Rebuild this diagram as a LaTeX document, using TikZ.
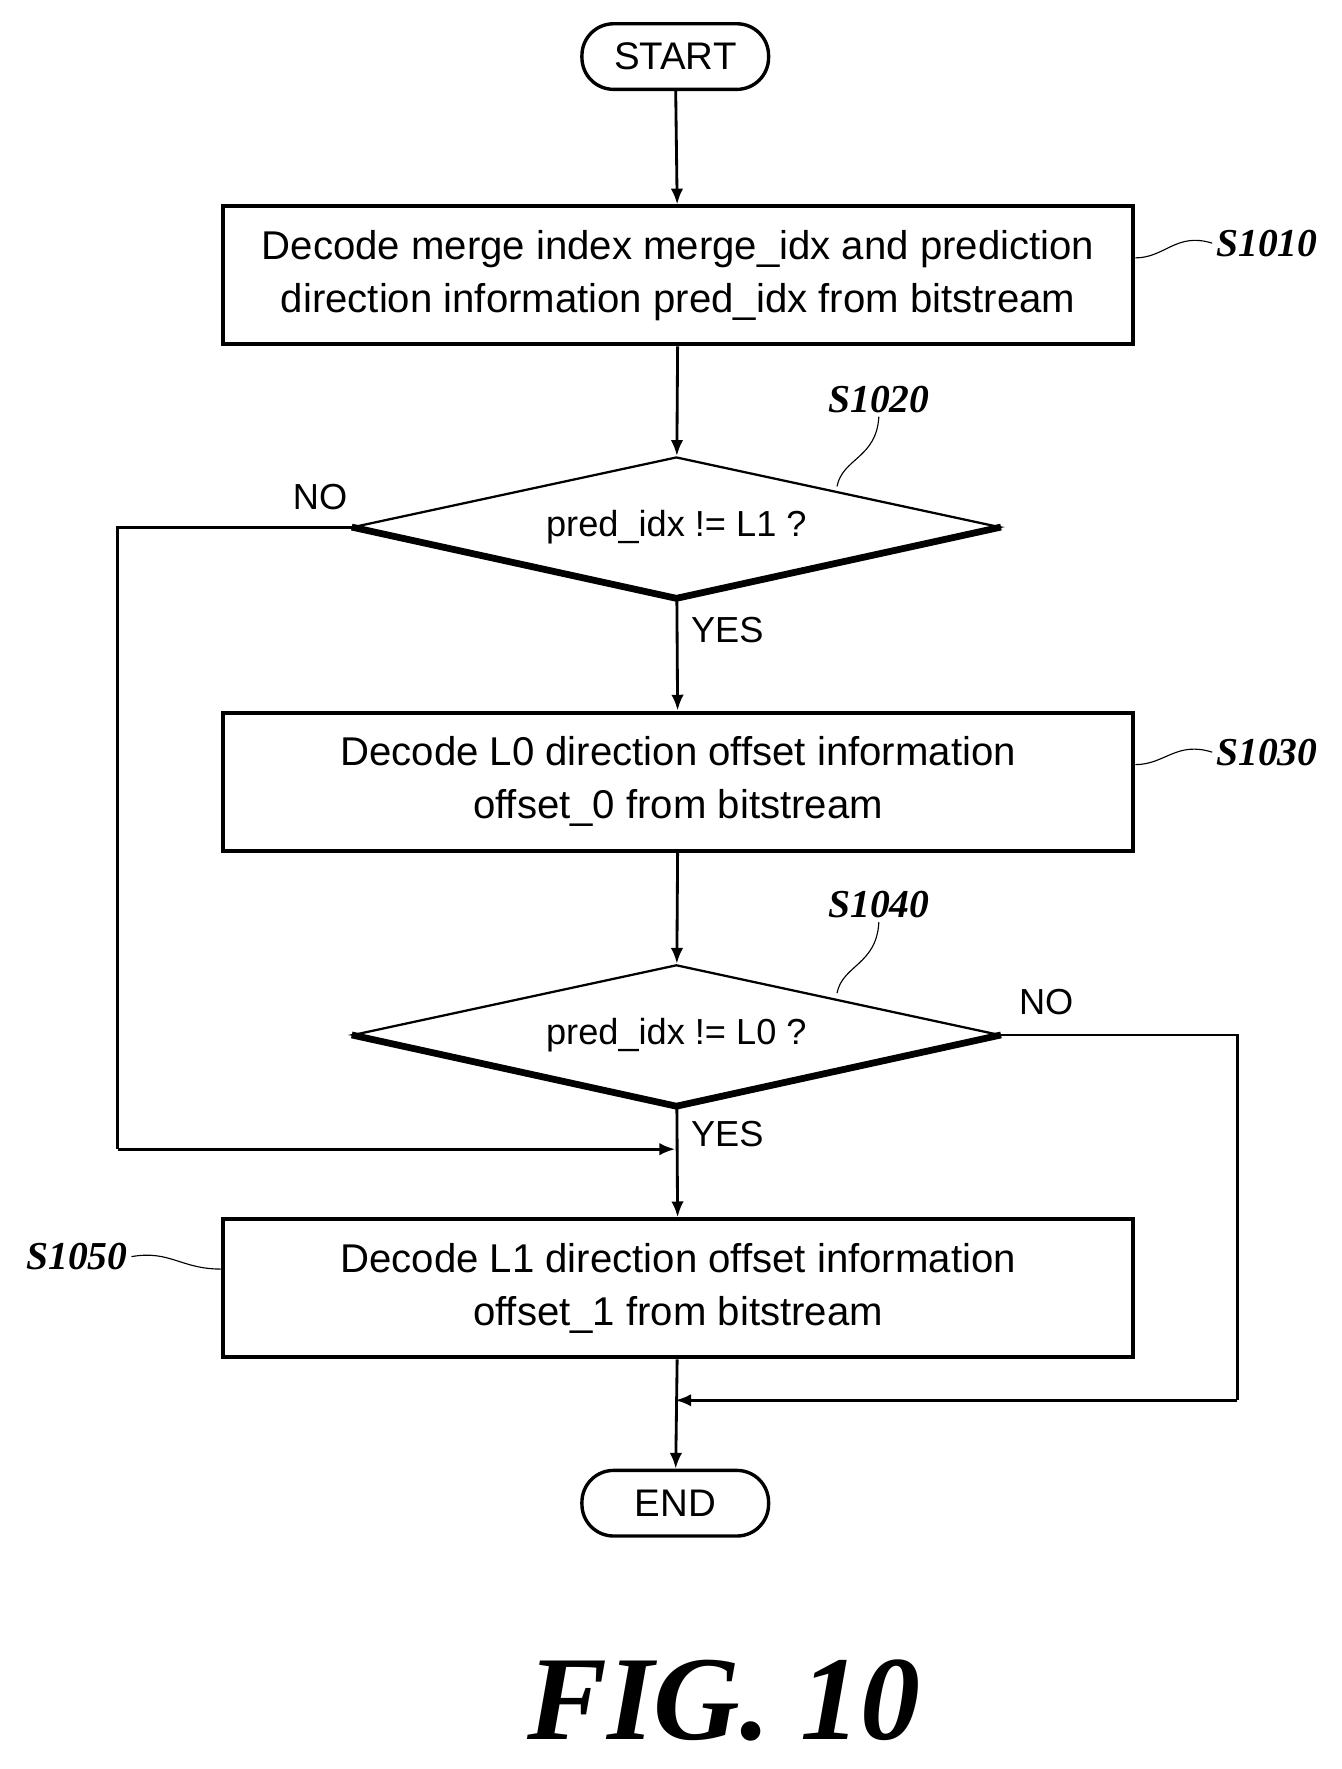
\documentclass[tikz,border=0pt]{standalone}
\usepackage{fontspec}
\setmainfont{Liberation Sans}
\newfontfamily\figfont{Liberation Serif}
\usetikzlibrary{shapes.geometric,arrows.meta}
\begin{document}
\begin{tikzpicture}[x=1pt,y=-1pt,
  box/.style={draw,line width=3.5pt,minimum width=805pt,minimum height=122pt,align=center,font=\fontsize{35.5}{47}\selectfont},
  term/.style={draw,line width=3pt,rounded corners=28pt,minimum width=165pt,minimum height=58pt,font=\fontsize{34}{40}\selectfont},
  dia/.style={draw,line width=2pt,diamond,aspect=4.6,minimum width=572pt,minimum height=124pt,inner sep=0pt,font=\fontsize{32}{38}\selectfont},
  lab/.style={font=\fontsize{32}{38}\selectfont},
  steplab/.style={font=\figfont\itshape\bfseries\fontsize{35}{40}\selectfont},
  arr/.style={line width=2.5pt,-{Latex[length=14pt,width=11pt]}},
  ln/.style={line width=2.5pt},
  sq/.style={line width=1pt}]
\useasboundingbox (0,0) rectangle (1186,1564);
\node[term] (start) at (597,50) {START};
\node[box] (b1) at (599.5,243.5) {Decode merge index merge\_idx and prediction\\direction information pred\_idx from bitstream};
\node[dia] (d1) at (598,466) {pred\_idx != L1 ?};
\node[box] (b2) at (599.5,691) {Decode L0 direction offset information\\offset\_0 from bitstream};
\node[dia] (d2) at (598,915) {pred\_idx != L0 ?};
\node[box] (b3) at (599.5,1139) {Decode L1 direction offset information\\offset\_1 from bitstream};
\node[term] (end) at (597,1329) {END};
\draw[line width=6pt] (d1.west) -- (d1.south) -- (d1.east);
\draw[line width=6pt] (d2.west) -- (d2.south) -- (d2.east);
\coordinate (j1) at (597,1016);
\coordinate (j2) at (597,1238);
\coordinate (l1) at (104,466);
\coordinate (l2) at (104,1016);
\coordinate (r1) at (1094,915);
\coordinate (r2) at (1094,1238);
\draw[arr] (start) -- (b1);
\draw[arr] (b1) -- (d1);
\draw[arr] (d1) -- (b2);
\draw[arr] (b2) -- (d2);
\draw[arr] (d2) -- (b3);
\draw[arr] (b3) -- (end);
\draw[ln] (d1.west) -- (l1) -- (l2);
\draw[arr] (l2) -- (j1);
\draw[ln] (d2.east) -- (r1) -- (r2);
\draw[arr] (r2) -- (j2);
\node[lab] (no1) at (283,439) {NO};
\node[lab] (yes1) at (643,557) {YES};
\node[lab] (no2) at (925,886) {NO};
\node[lab] (yes2) at (643,1003) {YES};
\node[steplab] (s1) at (1120,215) {S1010};
\node[steplab] (s2) at (777,353) {S1020};
\node[steplab] (s3) at (1120,665) {S1030};
\node[steplab] (s4) at (777,800) {S1040};
\node[steplab] (s5) at (68,1111) {S1050};
\draw[sq] (b1.east |- 0,228) .. controls (1030,228) and (1040,205) .. (s1.west);
\draw[sq] (b2.east |- 0,676) .. controls (1030,676) and (1040,655) .. (s3.west);
\draw[sq] (740,430) .. controls (745,405) and (775,405) .. (s2.south);
\draw[sq] (740,878) .. controls (745,853) and (775,853) .. (s4.south);
\draw[sq] (s5.east) .. controls (150,1105) and (160,1122) .. (b3.west |- 0,1122);
\node[font=\figfont\itshape\bfseries\fontsize{106}{110}\selectfont] (fig) at (640,1503) {FIG. 10};
\end{tikzpicture}
\end{document}
